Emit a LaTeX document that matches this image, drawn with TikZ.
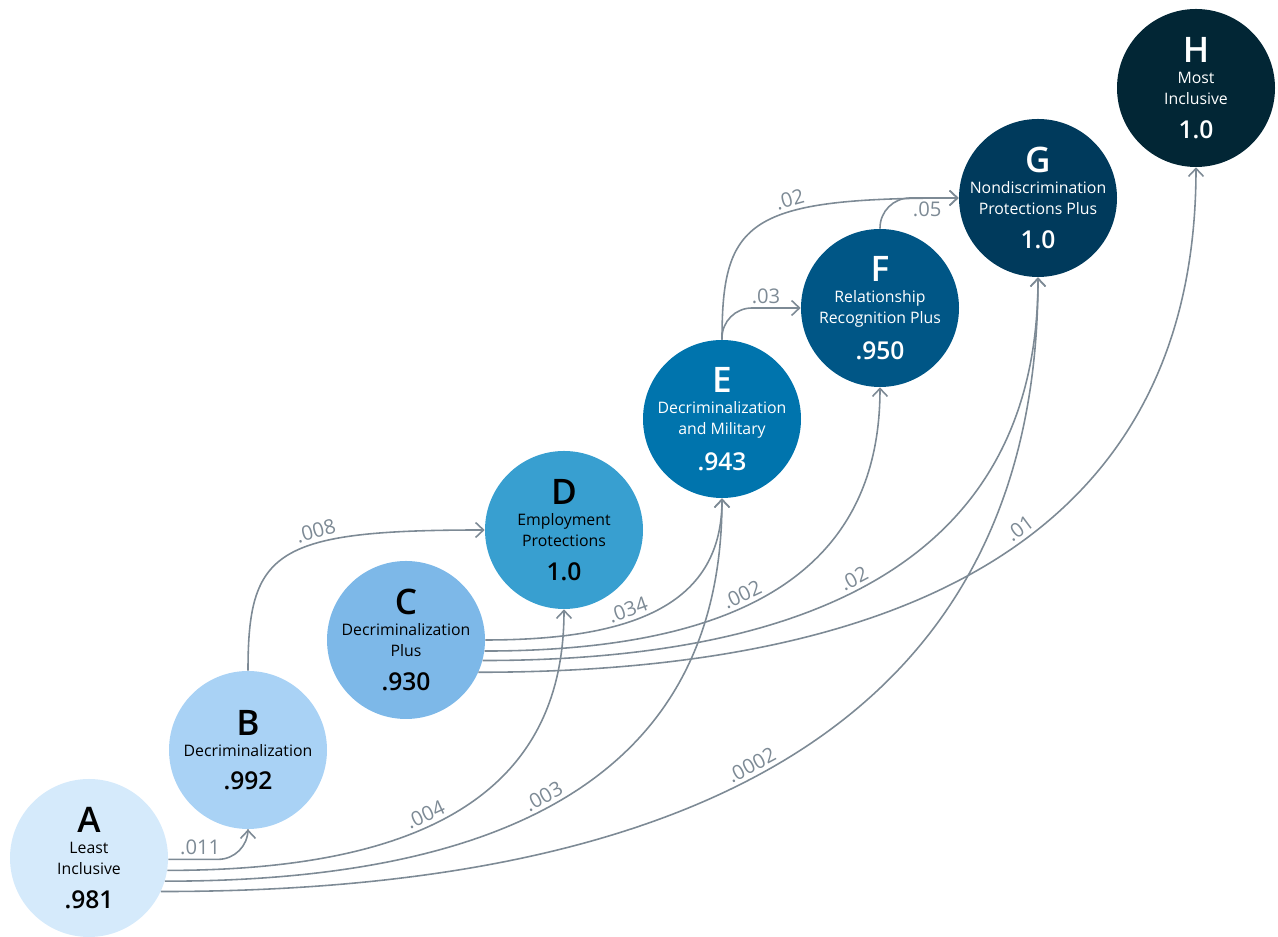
\documentclass[tikz,border=0pt]{standalone}
\usepackage{fontspec}
\setmainfont{Open Sans}
\IfFontExistsTF{Open Sans Semibold}{\newfontfamily\stagebold{Open Sans Semibold}}{%
  \IfFontExistsTF{Open Sans SemiBold}{\newfontfamily\stagebold{Open Sans SemiBold}}{%
    \IfFontExistsTF{OpenSans-Semibold}{\newfontfamily\stagebold{OpenSans-Semibold}}{%
      \newfontfamily\stagebold{Open Sans}[FakeBold=2.2]}}}
\usetikzlibrary{arrows.meta}

\definecolor{stageA}{HTML}{D5EAFB}
\definecolor{stageB}{HTML}{A9D2F5}
\definecolor{stageC}{HTML}{7DB8E8}
\definecolor{stageD}{HTML}{389FD0}
\definecolor{stageE}{HTML}{0074AD}
\definecolor{stageF}{HTML}{005686}
\definecolor{stageG}{HTML}{003A5C}
\definecolor{stageH}{HTML}{022635}
\definecolor{flowgray}{HTML}{7D8A95}

\newcommand{\stagehead}{\stagebold\fontsize{20}{20}\selectfont}
\newcommand{\stagevalue}{\stagebold\fontsize{14}{14}\selectfont}

\begin{document}
\begin{tikzpicture}[
  stage/.style={circle, minimum size=3.16cm, inner sep=0pt},
  stagetext/.style={align=center, inner sep=0pt, font=\fontsize{9}{12}\selectfont},
  flow/.style={draw=flowgray, line width=0.9pt, -{Straight Barb[length=4.5pt,width=8.5pt]}},
  sweep/.style={out=0, in=-90, out looseness=1.42, in looseness=0.96},
  share/.style={text=flowgray, font=\fontsize{11.5}{13}\selectfont, inner sep=2pt}]
\useasboundingbox (0,0) rectangle (25.56,18.74);

\node[stage, fill=stageA] (A) at (1.78,1.58) {};
\node[stage, fill=stageB] (B) at (4.96,3.74) {};
\node[stage, fill=stageC] (C) at (8.12,5.94) {};
\node[stage, fill=stageD] (D) at (11.28,8.14) {};
\node[stage, fill=stageE] (E) at (14.44,10.36) {};
\node[stage, fill=stageF] (F) at (17.60,12.58) {};
\node[stage, fill=stageG] (G) at (20.76,14.78) {};
\node[stage, fill=stageH] (H) at (23.92,16.98) {};

\node[stagetext] (A-t) at (A) {{\stagehead A}\\Least\\Inclusive\\[7pt]{\stagevalue .981}};
\node[stagetext] (B-t) at (B) {{\stagehead B}\\Decriminalization\\[7pt]{\stagevalue .992}};
\node[stagetext] (C-t) at (C) {{\stagehead C}\\Decriminalization\\Plus\\[7pt]{\stagevalue .930}};
\node[stagetext] (D-t) at (D) {{\stagehead D}\\Employment\\Protections\\[7pt]{\stagevalue 1.0}};
\node[stagetext, text=white] (E-t) at (E) {{\stagehead E}\\Decriminalization\\and Military\\[7pt]{\stagevalue .943}};
\node[stagetext, text=white] (F-t) at (F) {{\stagehead F}\\Relationship\\Recognition Plus\\[7pt]{\stagevalue .950}};
\node[stagetext, text=white] (G-t) at (G) {{\stagehead G}\\Nondiscrimination\\Protections Plus\\[7pt]{\stagevalue 1.0}};
\node[stagetext, text=white] (H-t) at (H) {{\stagehead H}\\Most\\Inclusive\\[7pt]{\stagevalue 1.0}};

\draw[flow, rounded corners=0.6cm] (A.-1) -| node[share, pos=0.2, above] {.011} (B.south);
\draw[flow] (A.-9) to[sweep] node[share, pos=0.42, sloped, above] {.004} (D.south);
\draw[flow] (A.-17) to[sweep] node[share, pos=0.44, sloped, above] {.003} (E.south);
\draw[flow] (A.-25) to[sweep] node[share, pos=0.43, sloped, above] {.0002} (G.south);
\draw[flow] (B.north) .. controls +(0,2.4) and +(-4.2,0) .. node[share, pos=0.63, sloped, above] {.008} (D.west);
\draw[flow] (C.0) to[sweep] node[share, pos=0.39, sloped, above] {.034} (E.south);
\draw[flow] (C.-8) to[sweep] node[share, pos=0.42, sloped, above] {.002} (F.south);
\draw[flow] (C.-15) to[sweep] node[share, pos=0.43, sloped, above] {.02} (G.south);
\draw[flow] (C.-24) to[sweep] node[share, pos=0.51, sloped, above] {.01} (H.south);
\draw[flow] (E.north) .. controls +(0,2.4) and +(-4.2,0) .. node[share, pos=0.63, sloped, above] {.02} (G.west);
\draw[flow, rounded corners=0.6cm] (E.north) |- node[share, pos=0.78, above] {.03} (F.west);
\draw[flow, rounded corners=0.6cm] (F.north) |- node[share, pos=0.8, below] {.05} (G.west);
\end{tikzpicture}
\end{document}
